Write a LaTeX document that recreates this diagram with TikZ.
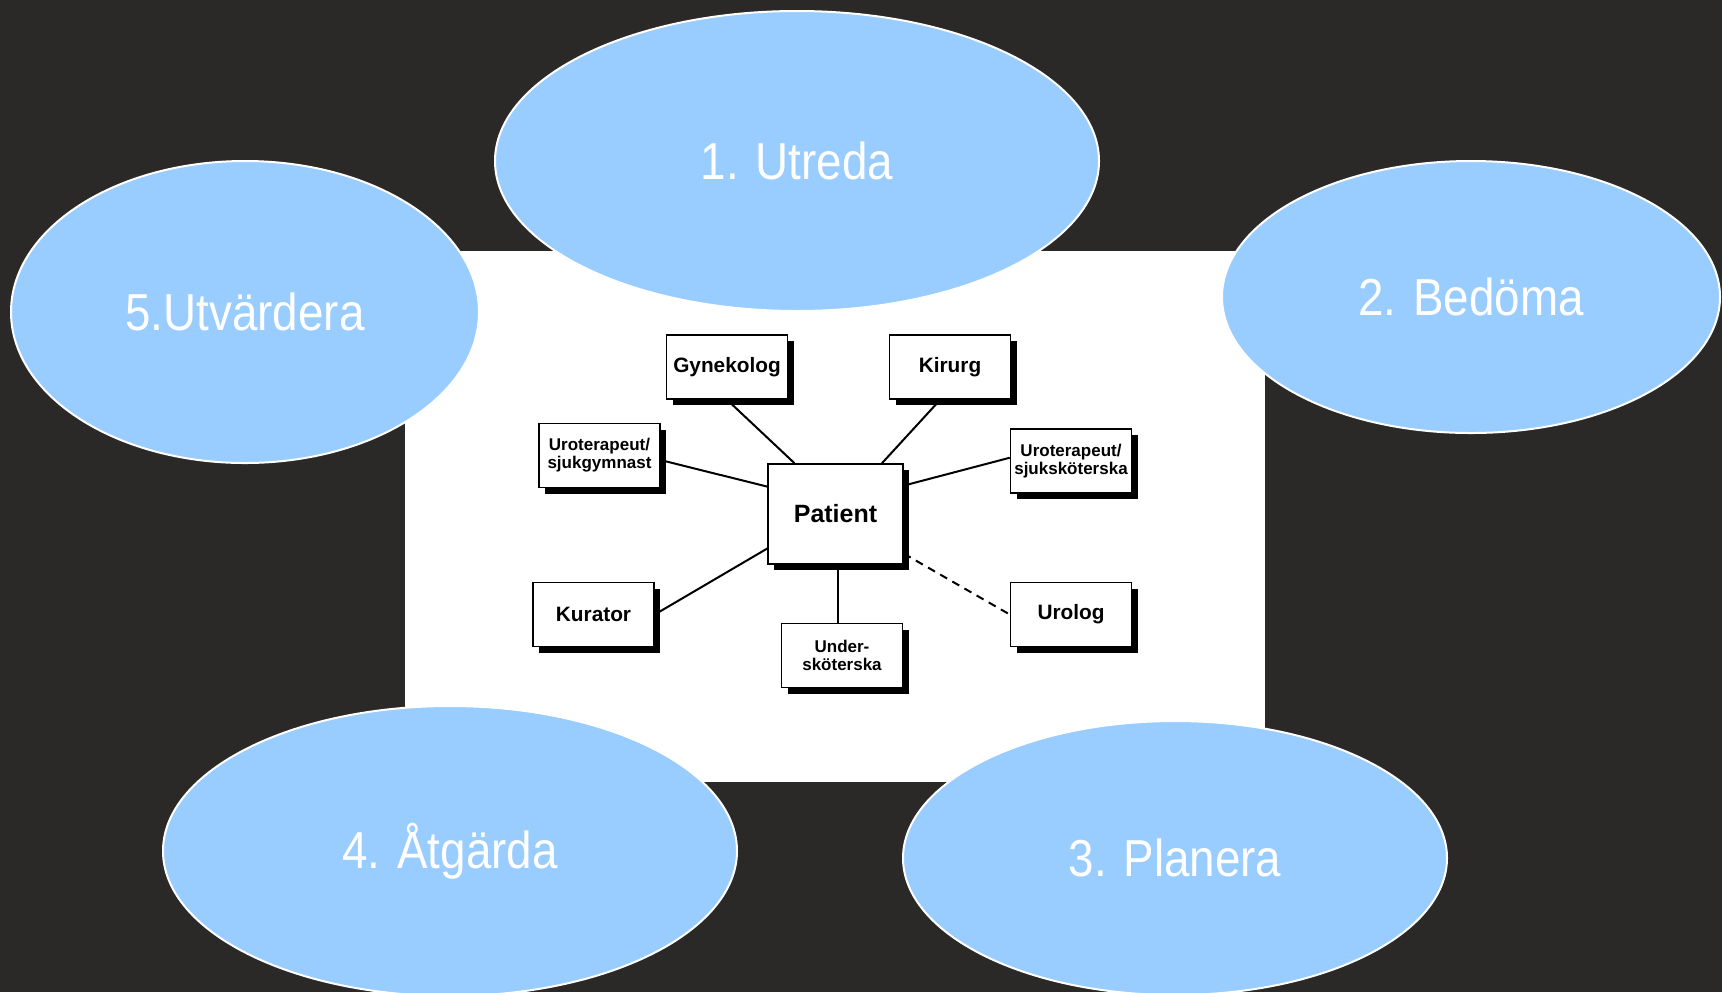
\documentclass[tikz,border=0pt]{standalone}
\usepackage{fontspec}
\setmainfont{Liberation Sans}
\newfontfamily\ellfont[FakeStretch=0.88]{Liberation Sans}
\usetikzlibrary{shadows,calc,shapes.geometric}
\definecolor{board}{HTML}{2A2928}
\definecolor{ellblue}{HTML}{99CCFF}
\pgfdeclarelayer{bg}
\pgfdeclarelayer{lines}
\pgfsetlayers{bg,lines,main}
\begin{document}
\begin{tikzpicture}[x=0.5pt,y=-0.5pt,
  phase/.style={ellipse, fill=ellblue, draw=white, line width=1pt, inner sep=0pt,
    text=white, font=\ellfont\fontsize{26}{30}\selectfont},
  box/.style={draw=black, line width=0.75pt, fill=white, align=center,
    font=\bfseries\fontsize{10.4}{12}\selectfont,
    minimum width=60.5pt, minimum height=32pt, inner sep=0pt,
    general shadow={fill=black, shadow xshift=3pt, shadow yshift=-3pt}},
  smallbox/.style={box, font=\bfseries\fontsize{8.5}{9}\selectfont},
  conn/.style={line width=1pt, draw=black}]
\useasboundingbox (0,0) rectangle (1722,992);
\begin{pgfonlayer}{bg}
  \fill[board] (0,0) rectangle (1722,992);
  \fill[white] (405,251) rectangle (1265,782);
  \node[phase, minimum width=302pt, minimum height=150pt] (e1) at (797,161) {1. Utreda};
  \node[phase, minimum width=249pt, minimum height=136pt] (e2) at (1471,297) {2. Bed\"oma};
  \node[phase, minimum width=234pt, minimum height=151pt] (e5) at (245,312) {5.Utv\"ardera};
  \node[phase, minimum width=287pt, minimum height=145pt] (e4) at (450,851) {4. \AA tg\"arda};
  \node[phase, minimum width=272pt, minimum height=137pt] (e3) at (1175,858) {3. Planera};
\end{pgfonlayer}

\node[box] (gyn) at (727,367) {Gynekolog};
\node[box] (kir) at (950,367) {Kirurg};
\node[smallbox] (sjg) at (599.5,455.5) {Uroterapeut/\\sjukgymnast};
\node[smallbox] (sjs) at (1071,461) {Uroterapeut/\\sjuksk\"oterska};
\node[box, minimum width=67.5pt, minimum height=50pt, font=\bfseries\fontsize{12.5}{14}\selectfont] (pat) at (835.5,514) {Patient};
\node[box] (kur) at (593.5,614.5) {Kurator};
\node[smallbox] (und) at (842,655.5) {Under-\\sk\"oterska};
\node[box] (uro) at (1071,614.5) {Urolog};

\begin{pgfonlayer}{lines}
  \draw[conn] (gyn.south) -- ($(pat.north west)!0.2!(pat.north east)$);
  \draw[conn] ($(kir.south west)!0.42!(kir.south east)$) -- ($(pat.north west)!0.84!(pat.north east)$);
  \draw[conn] ($(sjg.north east)!0.57!(sjg.south east)$) -- ($(pat.north west)!0.23!(pat.south west)$);
  \draw[conn] ($(sjs.north west)!0.45!(sjs.south west)$) -- ($(pat.north east)!0.22!(pat.south east)$);
  \draw[conn] (kur.east) -- ($(pat.north west)!0.84!(pat.south west)$);
  \draw[conn] ([xshift=1pt]pat.south) -- ([xshift=1pt]pat.south |- und.north);
  \draw[conn, dash pattern=on 4pt off 3pt] ($(pat.north east)!0.89!(pat.south east)$) -- (uro.west);
\end{pgfonlayer}
\end{tikzpicture}
\end{document}
